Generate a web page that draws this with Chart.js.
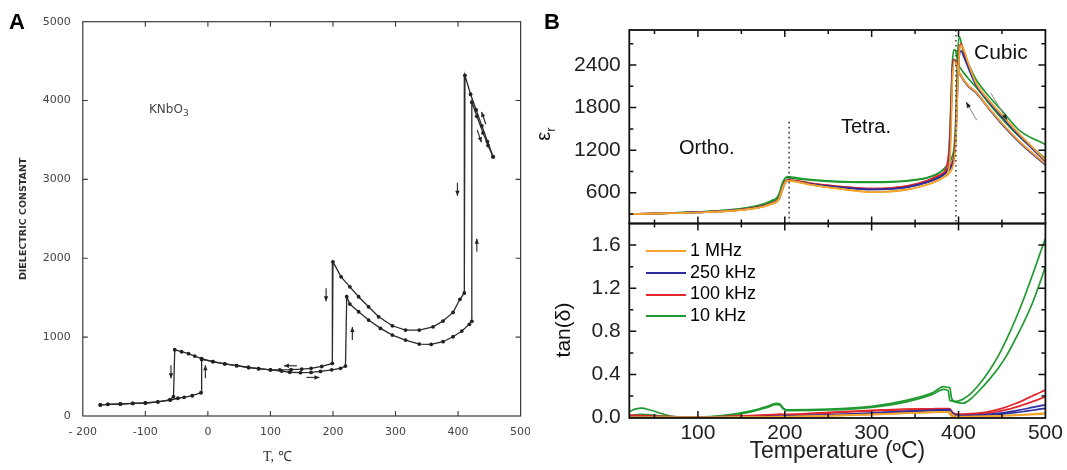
<!DOCTYPE html>
<html>
<head>
<meta charset="utf-8">
<script src="https://cdn.jsdelivr.net/npm/chart.js@4.4.0/dist/chart.umd.min.js"></script>
<style>
  body { margin: 0; background: #fff; width: 1067px; height: 470px; overflow: hidden; position: relative;
         font-family: "Liberation Sans", Arial, sans-serif; }
  .pane { position: absolute; }
  .txt { position: absolute; white-space: nowrap; color: #111; }
  .letter { position: absolute; font-weight: bold; font-size: 22px; color: #000; }
  #legend div { position: absolute; left: 0; height: 20px; font-size: 18px; line-height: 20px; white-space: nowrap; }
  #legend span { display: inline-block; width: 40px; height: 0; border-top: 2px solid; vertical-align: middle; margin-right: 4px; }
</style>
</head>
<body>
<div class="pane" style="left:0;top:0"><canvas id="cA" width="530" height="470"></canvas></div>
<div class="pane" style="left:530px;top:0"><canvas id="cB1" width="537" height="235"></canvas></div>
<div class="pane" style="left:530px;top:215px"><canvas id="cB2" width="537" height="255"></canvas></div>

<div class="letter" style="left:9px;top:9px">A</div>
<div class="letter" style="left:544px;top:9px">B</div>

<div class="txt" style="left:149px;top:102px;font-family:'DejaVu Sans';font-size:12px;color:#444">KNbO<sub style="font-size:9px">3</sub></div>
<div class="txt" style="left:263px;top:446px;font-family:'Liberation Serif';font-size:14px;color:#333">T, ℃</div>

<div class="txt" style="left:679px;top:136px;font-size:20px">Ortho.</div>
<div class="txt" style="left:841px;top:115px;font-size:20px">Tetra.</div>
<div class="txt" style="left:974px;top:40px;font-size:21px">Cubic</div>
<div class="txt" style="left:538px;top:121px;font-size:20px;transform:rotate(-90deg);transform-origin:center">ε<sub style="font-size:13px">r</sub></div>
<div class="txt" style="left:536px;top:318px;font-size:21px;transform:rotate(-90deg);transform-origin:center">tan(δ)</div>
<div id="legend" class="pane" style="left:646px;top:240px"></div>

<script>
Chart.defaults.font.family = '"Liberation Sans", Arial, sans-serif';
Chart.defaults.color = '#111';
Chart.defaults.animation = false;

// ---------- panel A: KNbO3, dielectric constant vs T ----------
var xTicksA = [-200, -100, 0, 100, 200, 300, 400, 500];
var xLabelsA = ['- 200', '-100', '0', '100', '200', '300', '400', '500'];
var yTicksA = [0, 1000, 2000, 3000, 4000, 5000];

// cooling run (starts hot)
var coolT = [456,447,438,429,420,411,410,403,392,376,360,338,316,295,273,257,241,227,213,200,199,182,165,150,133,115,100,81,65,46,27,8,-10,-21,-31,-42,-53,-55,-61,-80,-100,-120,-140,-160,-172];
var coolV = [3290,3480,3680,3880,4080,4320,1560,1480,1314,1204,1131,1089,1089,1144,1258,1385,1512,1638,1765,1955,667,628,605,595,588,585,585,600,615,638,662,690,728,760,790,815,840,245,205,180,165,160,152,148,140];
// heating run (starts cold)
var heatT = [-172,-160,-140,-120,-100,-80,-60,-48,-38,-25,-11,-10,8,27,46,65,81,100,118,131,148,165,180,198,212,220,222,227,241,257,276,295,316,338,357,376,392,406,418,422,422,430,440,448,456];
var heatV = [140,148,152,160,165,180,203,225,237,257,295,718,690,662,638,615,600,585,570,555,550,552,565,585,605,633,1512,1419,1322,1216,1111,1026,963,912,908,942,1005,1077,1162,1200,3980,3800,3590,3430,3285];

// small direction arrows drawn beside the curves (deg, 90 = down)
var arrowAT = [-59, -4, 132, 168, 189, 231, 399, 430, 441, 434];
var arrowAV = [560, 560, 637, 489, 1537, 1047, 2875, 2166, 3778, 3550];
var arrowADir = [90, -90, 180, 0, 90, -90, 90, -90, -109, 71];

// ---------- panel B: eps_r and tan(delta) vs T ----------
var freqLabels = ['1 MHz', '250 kHz', '100 kHz', '10 kHz'];
var freqColors = ['#f4a42c', '#2d2f9e', '#e2262c', '#209a30'];
var xTicksB = [100, 200, 300, 400, 500];
var xMinorB = [50, 150, 250, 350, 450];
var epsTicks = [600, 1200, 1800, 2400];
var epsMinor = [300, 900, 1500, 2100, 2700];
var tanTicks = [0, 0.4, 0.8, 1.2, 1.6];
var tanMinor = [0.2, 0.6, 1.0, 1.4];

var tempE = [21,50,100,150,175,185,191,194,197,200,203,210,230,260,300,340,365,378,385,389,391,393,395,397,399,401,403,406,412,420,435,450,470,500];
var epsOrangeHeat = [300,305,320,355,400,440,470,520,630,730,765,760,710,660,609,640,715,780,830,870,900,950,1050,1350,2050,2580,2680,2620,2400,2150,1900,1695,1425,1060];
var epsOrangeCool = [300,305,320,357,405,445,480,535,650,740,768,762,712,660,609,642,718,785,840,950,1300,2200,2460,2430,2350,2290,2250,2190,2100,2020,1790,1580,1325,1005];
var epsBlueHeat = [300,305,322,358,405,445,475,525,635,735,770,765,720,680,645,675,750,815,870,915,950,1000,1100,1400,2100,2550,2600,2520,2340,2120,1880,1670,1400,1040];
var epsBlueCool = [300,305,322,360,410,450,485,540,655,745,772,768,722,680,645,676,752,820,880,1000,1500,2300,2470,2430,2340,2280,2240,2180,2090,2010,1780,1565,1310,990];
var epsRedHeat = [300,305,324,360,410,450,480,530,640,740,775,772,730,690,656,690,770,840,900,950,990,1040,1150,1500,2250,2650,2700,2600,2380,2140,1900,1690,1420,1060];
var epsRedCool = [300,305,324,362,415,455,490,545,660,750,780,775,732,690,656,692,775,850,920,1200,1700,2400,2480,2440,2350,2290,2250,2190,2100,2020,1790,1575,1320,1000];
var epsGreenHeat = [300,306,328,372,430,475,505,560,680,790,825,815,785,760,752,768,815,880,950,1010,1060,1120,1250,1700,2550,2800,2720,2580,2400,2200,1960,1755,1480,1280];
var epsGreenCool = [300,306,328,375,440,490,530,600,730,800,812,800,775,752,745,762,810,880,960,1100,1800,2450,2620,2590,2450,2380,2340,2290,2200,2090,1860,1645,1390,1080];

var tempL = [21,28,35,45,55,70,85,100,130,160,180,190,194,198,202,250,300,340,370,383,388,390,392,396,400,405,415,425,435,445,455,465,475,485,495,500];
var tanOrangeHeat = [0.003,0.003,0.003,0.003,0.002,0.002,0.002,0.002,0.003,0.004,0.005,0.006,0.006,0.006,0.007,0.018,0.03,0.042,0.05,0.053,0.054,0.053,0.035,0.012,0.009,0.008,0.009,0.011,0.013,0.016,0.019,0.023,0.028,0.033,0.038,0.04];
var tanOrangeCool = [0.002,0.002,0.002,0.002,0.002,0.002,0.001,0.001,0.002,0.003,0.004,0.005,0.005,0.005,0.006,0.016,0.028,0.04,0.048,0.051,0.05,0.03,0.012,0.008,0.007,0.007,0.008,0.009,0.011,0.014,0.017,0.02,0.024,0.028,0.032,0.035];
var tanBlueHeat = [0.005,0.005,0.005,0.004,0.004,0.003,0.003,0.003,0.004,0.006,0.008,0.01,0.011,0.011,0.012,0.025,0.042,0.058,0.068,0.072,0.073,0.072,0.05,0.025,0.02,0.019,0.021,0.025,0.031,0.039,0.049,0.062,0.077,0.094,0.11,0.117];
var tanBlueCool = [0.004,0.004,0.004,0.003,0.003,0.003,0.002,0.002,0.003,0.005,0.007,0.009,0.01,0.01,0.011,0.023,0.04,0.055,0.065,0.069,0.068,0.045,0.025,0.018,0.016,0.016,0.017,0.02,0.024,0.03,0.037,0.046,0.056,0.068,0.08,0.086];
var tanRedHeat = [0.02,0.02,0.018,0.015,0.012,0.008,0.006,0.006,0.01,0.018,0.025,0.03,0.032,0.03,0.03,0.048,0.068,0.078,0.082,0.084,0.084,0.082,0.06,0.035,0.032,0.032,0.036,0.044,0.056,0.074,0.098,0.128,0.162,0.2,0.238,0.256];
var tanRedCool = [0.01,0.012,0.012,0.01,0.008,0.006,0.005,0.005,0.008,0.015,0.02,0.025,0.027,0.026,0.026,0.042,0.062,0.074,0.079,0.08,0.078,0.05,0.032,0.028,0.026,0.026,0.029,0.034,0.043,0.056,0.073,0.095,0.12,0.148,0.178,0.194];
var tanGreenHeat = [0.056,0.078,0.087,0.07,0.045,0.012,0.004,0.004,0.02,0.06,0.105,0.133,0.128,0.09,0.072,0.078,0.105,0.16,0.23,0.287,0.28,0.275,0.18,0.15,0.155,0.17,0.23,0.32,0.43,0.56,0.72,0.9,1.1,1.32,1.55,1.66];
var tanGreenCool = [0.02,0.025,0.03,0.025,0.015,0.006,0.003,0.003,0.015,0.05,0.095,0.12,0.118,0.08,0.065,0.07,0.095,0.145,0.215,0.262,0.25,0.16,0.155,0.145,0.138,0.133,0.18,0.26,0.35,0.45,0.57,0.72,0.88,1.06,1.28,1.40];

// phase boundaries (dotted) and heating/cooling arrows in the eps plot
var phaseT = [205, 397];
var phaseTop = [1600, 2895];
var arrowBFrom = [[421, 1622], [437, 2008]];
var arrowBTo = [[408.6, 1881], [456, 1622]];

function pts(tx, vals) {
  return tx.map(function (t, i) { return { x: t, y: vals[i] }; });
}

// box round the plot area with inward ticks on all four sides
var framePlugin = {
  id: 'frame',
  afterDraw: function (chart, args, o) {
    var ctx = chart.ctx, a = chart.chartArea, sx = chart.scales.x, sy = chart.scales.y;
    ctx.save();
    ctx.strokeStyle = o.color;
    ctx.lineWidth = o.tickWidth;
    ctx.beginPath();
    function xt(list, len) {
      list.forEach(function (v) {
        var p = sx.getPixelForValue(v);
        ctx.moveTo(p, a.bottom); ctx.lineTo(p, a.bottom - len);
        ctx.moveTo(p, a.top); ctx.lineTo(p, a.top + len);
      });
    }
    function yt(list, len) {
      list.forEach(function (v) {
        var p = sy.getPixelForValue(v);
        ctx.moveTo(a.left, p); ctx.lineTo(a.left + len, p);
        ctx.moveTo(a.right, p); ctx.lineTo(a.right - len, p);
      });
    }
    xt(o.xMajor, o.major); yt(o.yMajor, o.major);
    xt(o.xMinor || [], o.minor); yt(o.yMinor || [], o.minor);
    ctx.stroke();
    ctx.lineWidth = o.width;
    ctx.strokeRect(a.left, a.top, a.right - a.left, a.bottom - a.top);
    ctx.restore();
  }
};

var arrowPlugin = {
  id: 'arrows',
  afterDatasetsDraw: function (chart, args, o) {
    var ctx = chart.ctx, sx = chart.scales.x, sy = chart.scales.y;
    ctx.save();
    o.items.forEach(function (it) {
      var x1, y1, x2, y2;
      if (it.ang !== undefined) {
        var cx = sx.getPixelForValue(it.x), cy = sy.getPixelForValue(it.y);
        var r = it.ang * Math.PI / 180, h = o.len / 2;
        x1 = cx - Math.cos(r) * h; y1 = cy - Math.sin(r) * h;
        x2 = cx + Math.cos(r) * h; y2 = cy + Math.sin(r) * h;
      } else {
        x1 = sx.getPixelForValue(it.from[0]); y1 = sy.getPixelForValue(it.from[1]);
        x2 = sx.getPixelForValue(it.to[0]); y2 = sy.getPixelForValue(it.to[1]);
      }
      ctx.strokeStyle = o.shaft; ctx.lineWidth = o.lw;
      ctx.beginPath(); ctx.moveTo(x1, y1); ctx.lineTo(x2, y2); ctx.stroke();
      var r2 = Math.atan2(y2 - y1, x2 - x1), hl = o.head, hw = o.headW;
      var bx = x2 - hl * Math.cos(r2), by = y2 - hl * Math.sin(r2);
      ctx.fillStyle = o.headColor;
      ctx.beginPath();
      ctx.moveTo(x2, y2);
      ctx.lineTo(bx + hw * Math.sin(r2), by - hw * Math.cos(r2));
      ctx.lineTo(bx - hw * Math.sin(r2), by + hw * Math.cos(r2));
      ctx.closePath(); ctx.fill();
    });
    ctx.restore();
  }
};

function fixedTicks(list) {
  return function (s) { s.ticks = list.map(function (v) { return { value: v }; }); };
}
// pin an axis box to a given size and drop the label overhang padding
function pinSize(w, h) {
  return function (s) {
    if (w !== null) s.width = w;
    if (h !== null) s.height = h;
    s.paddingTop = 0; s.paddingBottom = 0; s.paddingLeft = 0; s.paddingRight = 0;
  };
}
function plain(v) { return String(v); }

// ---------- chart A ----------
var lineA = { borderColor: '#2b2b2b', borderWidth: 1.3, pointRadius: 1.9, pointBackgroundColor: '#222',
              pointBorderWidth: 0, tension: 0, fill: false };
new Chart(document.getElementById('cA'), {
  type: 'line',
  data: {
    datasets: [
      Object.assign({ label: 'cooling', data: pts(coolT, coolV) }, lineA),
      Object.assign({ label: 'heating', data: pts(heatT, heatV) }, lineA)
    ]
  },
  options: {
    responsive: false,
    layout: { padding: { top: 21.7, right: 9.4, left: 0, bottom: 0 } },
    plugins: {
      legend: { display: false }, tooltip: { enabled: false },
      frame: { color: '#3a3a3a', width: 1.2, tickWidth: 1.1, major: 5, minor: 3,
               xMajor: xTicksA.slice(1, -1), yMajor: yTicksA.slice(1, -1) },
      arrows: { items: arrowAT.map(function (t, i) { return { x: t, y: arrowAV[i], ang: arrowADir[i] }; }),
                len: 13, lw: 1.2, head: 5, headW: 2.2, shaft: '#333', headColor: '#222' }
    },
    scales: {
      x: {
        type: 'linear', min: -200, max: 500,
        afterBuildTicks: fixedTicks(xTicksA),
        afterFit: pinSize(null, 54),
        grid: { display: false, drawTicks: false }, border: { display: false },
        ticks: { padding: 9.5, color: '#444', font: { family: 'DejaVu Sans', size: 11 },
                 maxRotation: 0, callback: function (v, i) { return xLabelsA[i]; } }
      },
      y: {
        type: 'linear', min: 0, max: 5000,
        afterBuildTicks: fixedTicks(yTicksA),
        afterFit: pinSize(82.8, null),
        grid: { display: false, drawTicks: false }, border: { display: false },
        ticks: { padding: 12, color: '#444', font: { family: 'DejaVu Sans', size: 11 }, callback: plain },
        title: { display: true, text: 'DIELECTRIC CONSTANT', color: '#333',
                 font: { family: 'DejaVu Sans', size: 9.5, weight: 'bold' }, padding: { top: 18, bottom: 0 } }
      }
    }
  },
  plugins: [framePlugin, arrowPlugin]
});

// ---------- chart B top: eps_r ----------
function curve(tx, vals, color) {
  return { data: pts(tx, vals), borderColor: color, borderWidth: 1.7, pointRadius: 0,
           cubicInterpolationMode: 'monotone', fill: false };
}
function dotted(i, ymin) {
  return { data: [{ x: phaseT[i], y: phaseTop[i] }, { x: phaseT[i], y: ymin }], borderColor: '#444',
           borderWidth: 1.6, borderDash: [1.6, 3.4], pointRadius: 0, tension: 0, fill: false };
}
var epsMin = 165, epsMax = 2895;
function bAxisX(show) {
  return {
    type: 'linear', min: 21, max: 500, display: show,
    afterBuildTicks: fixedTicks(xTicksB),
    afterFit: pinSize(null, show ? 52 : 0),
    grid: { display: false, drawTicks: false }, border: { display: false },
    ticks: { padding: 3, color: '#222', font: { size: 21 }, maxRotation: 0 },
    title: { display: show, text: 'Temperature (ºC)', color: '#222', font: { size: 23 },
             padding: { top: 0, bottom: 4.5 } }
  };
}

new Chart(document.getElementById('cB1'), {
  type: 'line',
  data: {
    datasets: [
      dotted(0, epsMin), dotted(1, epsMin),
      curve(tempE, epsOrangeHeat, freqColors[0]), curve(tempE, epsOrangeCool, freqColors[0]),
      curve(tempE, epsBlueHeat, freqColors[1]), curve(tempE, epsBlueCool, freqColors[1]),
      curve(tempE, epsRedHeat, freqColors[2]), curve(tempE, epsRedCool, freqColors[2]),
      curve(tempE, epsGreenHeat, freqColors[3]), curve(tempE, epsGreenCool, freqColors[3])
    ]
  },
  options: {
    responsive: false,
    layout: { padding: { top: 30, right: 21.6, left: 0, bottom: 11.5 } },
    plugins: {
      legend: { display: false }, tooltip: { enabled: false },
      frame: { color: '#111', width: 1.8, tickWidth: 1.5, major: 7, minor: 4,
               xMajor: xTicksB.slice(0, -1), xMinor: xMinorB, yMajor: epsTicks, yMinor: epsMinor },
      arrows: { items: arrowBFrom.map(function (f, i) { return { from: f, to: arrowBTo[i] }; }),
                lw: 1, head: 6, headW: 2.2, shaft: '#8a8a8a', headColor: '#222' }
    },
    scales: {
      x: bAxisX(false),
      y: {
        type: 'linear', min: epsMin, max: epsMax,
        afterBuildTicks: fixedTicks(epsTicks),
        afterFit: pinSize(99.3, null),
        grid: { display: false, drawTicks: false }, border: { display: false },
        ticks: { padding: 8.5, color: '#222', font: { size: 21 }, callback: plain }
      }
    }
  },
  plugins: [framePlugin, arrowPlugin]
});

// ---------- chart B bottom: tan(delta) ----------
new Chart(document.getElementById('cB2'), {
  type: 'line',
  data: {
    datasets: [
      curve(tempL, tanOrangeHeat, freqColors[0]), curve(tempL, tanOrangeCool, freqColors[0]),
      curve(tempL, tanBlueHeat, freqColors[1]), curve(tempL, tanBlueCool, freqColors[1]),
      curve(tempL, tanRedHeat, freqColors[2]), curve(tempL, tanRedCool, freqColors[2]),
      curve(tempL, tanGreenHeat, freqColors[3]), curve(tempL, tanGreenCool, freqColors[3])
    ]
  },
  options: {
    responsive: false,
    layout: { padding: { top: 8.5, right: 21.6, left: 0, bottom: 0 } },
    plugins: {
      legend: { display: false }, tooltip: { enabled: false },
      frame: { color: '#111', width: 1.8, tickWidth: 1.5, major: 7, minor: 4,
               xMajor: xTicksB.slice(0, -1), xMinor: xMinorB, yMajor: tanTicks.slice(1), yMinor: tanMinor }
    },
    scales: {
      x: bAxisX(true),
      y: {
        type: 'linear', min: -0.004, max: 1.8,
        afterBuildTicks: fixedTicks(tanTicks),
        afterFit: pinSize(99.3, null),
        grid: { display: false, drawTicks: false }, border: { display: false },
        ticks: { padding: 8.5, color: '#222', font: { size: 21 },
                 callback: function (v) { return v.toFixed(1); } }
      }
    }
  },
  plugins: [framePlugin]
});

// legend of the tan(delta) plot
var lg = document.getElementById('legend');
freqLabels.forEach(function (name, i) {
  var row = document.createElement('div');
  row.style.top = (i * 21.7) + 'px';
  row.innerHTML = '<span style="border-color:' + freqColors[i] + '"></span>' + name;
  lg.appendChild(row);
});
</script>
</body>
</html>
